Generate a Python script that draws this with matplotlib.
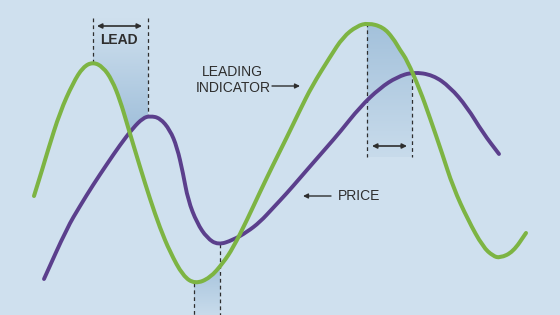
#Leading indicator vs price schematic
import numpy as np
import matplotlib.pyplot as plt
from matplotlib.colors import LinearSegmentedColormap
from matplotlib.patches import Polygon, PathPatch
from matplotlib.path import Path

plt.rcParams['font.family'] = ['Liberation Sans', 'DejaVu Sans']

#Curves (x, y in picture pixels, y grows downward)
green_x = [34, 43, 48, 60, 73, 83, 93, 103, 112, 120, 128, 140, 150, 160, 170, 183, 195, 210, 223,
           233, 247, 260, 273, 287, 300, 312, 330, 343, 357, 368, 383, 393, 400, 407, 420, 430, 442, 453, 468,
           483, 493, 500, 513, 526]
green_y = [196, 167, 150, 112, 83, 67, 62, 67, 80, 100, 127, 167, 199, 228, 252, 276, 284, 278, 263,
           248, 220, 192, 165, 137, 110, 86, 57, 37, 26, 23, 27, 38, 50, 60, 90, 118, 153, 187, 220,
           247, 256, 258, 252, 233]

purple_x = [44, 67, 80, 93, 107, 120, 133, 143, 150, 160, 170, 177, 183, 188, 197, 207, 218, 233, 247, 260,
            273, 287, 300, 313, 327, 340, 360, 380, 397, 413, 433, 450, 467, 483, 499]
purple_y = [279, 228, 206, 185, 164, 145, 128, 118, 116, 118, 130, 147, 173, 200, 223, 238, 245, 240, 232, 222,
            208, 193, 178, 163, 147, 132, 107, 88, 77, 72, 75, 87, 107, 133, 154]

#Lead markers: (left x, right x)
lead_top = (93, 148)
lead_right = (367, 412)
lead_bottom = (194, 220)

bg = '#cfe0ee'
green = '#7db443'
purple = '#5b3f8c'
ink = '#2e2e2e'

fig = plt.figure(figsize=(5.6, 3.15), dpi=100)
fig.patch.set_facecolor(bg)
ax = fig.add_axes([0, 0, 1, 1])
ax.set_facecolor(bg)
ax.set_xlim(0, 560)
ax.set_ylim(315, 0)
ax.axis('off')

def gy(x):
    return np.interp(x, green_x, green_y)

def py(x):
    return np.interp(x, purple_x, purple_y)

def smooth_path(xv, yv):
    #read points used as quadratic bezier controls, so matplotlib draws a smooth line
    p = np.column_stack([xv, yv]).astype(float)
    verts = [p[0], (p[0] + p[1]) / 2]
    codes = [Path.MOVETO, Path.LINETO]
    for i in range(1, len(p) - 1):
        verts += [p[i], (p[i] + p[i + 1]) / 2]
        codes += [Path.CURVE3, Path.CURVE3]
    verts.append(p[-1])
    codes.append(Path.LINETO)
    return Path(verts, codes)

def gradient(x0, x1, top_y, bot_y, edge, c_top, c_bot):
    cmap = LinearSegmentedColormap.from_list('g', [c_top, c_bot])
    grad = np.linspace(0, 1, 200).reshape(-1, 1)
    im = ax.imshow(grad, cmap=cmap, extent=[x0, x1, bot_y, top_y], origin='upper',
                   aspect='auto', zorder=1, interpolation='bilinear')
    poly = Polygon(edge, closed=True, transform=ax.transData, facecolor='none', edgecolor='none')
    ax.add_patch(poly)
    im.set_clip_path(poly)

#Fill 1: above the upper curve between the peaks
xs = np.linspace(lead_top[0], lead_top[1], 60)
upper = np.minimum(gy(xs), py(xs))
edge = [(lead_top[0], 18), (lead_top[1], 18)] + list(zip(xs[::-1], upper[::-1]))
gradient(lead_top[0], lead_top[1], 18, upper.max(), edge, bg, '#a0bfda')

#Fill 2: below the upper curve between the peaks
xs = np.linspace(lead_right[0], lead_right[1], 60)
upper = np.minimum(gy(xs), py(xs))
edge = list(zip(xs, upper)) + [(lead_right[1], 157), (lead_right[0], 157)]
gradient(lead_right[0], lead_right[1], upper.min(), 157, edge, '#a3c1db', '#c8dbeb')

#Fill 3: below the lower curve between the troughs
xs = np.linspace(lead_bottom[0], lead_bottom[1], 60)
lower = np.maximum(gy(xs), py(xs))
edge = list(zip(xs, lower)) + [(lead_bottom[1], 315), (lead_bottom[0], 315)]
gradient(lead_bottom[0], lead_bottom[1], lower.min(), 315, edge, '#a7c4dd', '#c8dbeb')

#Dashed guides
dash = dict(color=ink, lw=0.9, ls=(0, (3, 2.5)), zorder=2)
ax.plot([lead_top[0]] * 2, [18, gy(lead_top[0])], **dash)
ax.plot([lead_top[1]] * 2, [18, py(lead_top[1])], **dash)
ax.plot([lead_right[0]] * 2, [gy(lead_right[0]), 157], **dash)
ax.plot([lead_right[1]] * 2, [py(lead_right[1]), 157], **dash)
ax.plot([lead_bottom[0]] * 2, [gy(lead_bottom[0]), 315], **dash)
ax.plot([lead_bottom[1]] * 2, [py(lead_bottom[1]), 315], **dash)

#Curves
ax.add_patch(PathPatch(smooth_path(purple_x, purple_y), facecolor='none', edgecolor=purple, lw=2.8,
                       capstyle='round', joinstyle='round', zorder=3))
ax.add_patch(PathPatch(smooth_path(green_x, green_y), facecolor='none', edgecolor=green, lw=2.9,
                       capstyle='round', joinstyle='round', zorder=4))

#Arrows
arr2 = dict(arrowstyle='<|-|>', color=ink, lw=1.2, mutation_scale=7, shrinkA=0, shrinkB=0)
ax.annotate('', xy=(97, 26), xytext=(142, 26), arrowprops=arr2, zorder=5)
ax.annotate('', xy=(372, 146), xytext=(407, 146), arrowprops=arr2, zorder=5)
arr1 = dict(arrowstyle='-|>', color=ink, lw=1.0, mutation_scale=7, shrinkA=0, shrinkB=0)
ax.annotate('', xy=(300, 86), xytext=(272, 86), arrowprops=arr1, zorder=5)
ax.annotate('', xy=(303, 196), xytext=(331, 196), arrowprops=arr1, zorder=5)

#Labels
ax.text(119, 40, 'LEAD', ha='center', va='center', fontsize=10, fontweight='bold', color=ink, zorder=5)
ax.text(232, 72, 'LEADING', ha='center', va='center', fontsize=10, color=ink, zorder=5)
ax.text(233, 88, 'INDICATOR', ha='center', va='center', fontsize=10, color=ink, zorder=5)
ax.text(338, 196, 'PRICE', ha='left', va='center', fontsize=10, color=ink, zorder=5)

fig.savefig('out.png', dpi=100, facecolor=bg)
